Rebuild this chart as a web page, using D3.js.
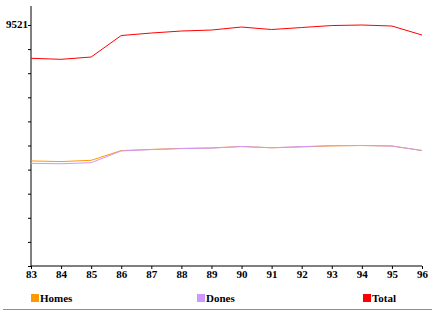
<!DOCTYPE html>
<html><head><meta charset="utf-8">
<script src="https://cdn.jsdelivr.net/npm/d3@7"></script>
<style>body{margin:0;background:#fff}svg{display:block}</style>
</head><body><svg id="c" width="440" height="322"></svg>
<script>
const years = ["83","84","85","86","87","88","89","90","91","92","93","94","95","96"];
const total = [8205, 8165, 8256, 9105, 9204, 9283, 9322, 9441, 9342, 9421, 9500, 9521, 9480, 9125];
const homes = [4150, 4125, 4175, 4560, 4605, 4645, 4665, 4720, 4670, 4705, 4745, 4760, 4740, 4560];
const dones = [4055, 4040, 4081, 4545, 4599, 4638, 4657, 4721, 4672, 4716, 4755, 4761, 4740, 4565];
const yMax = 9521;
const seriesNames = ["Homes","Dones","Total"];
const colors = ["#ff9900","#cc99ff","#ff0000"];

const svg = d3.select("#c");
const x = d3.scalePoint().domain(years).range([31, 422]);
const y = d3.scaleLinear().domain([0, yMax]).range([266, 25]);

function styleText(sel){
  sel.attr("font-family","Liberation Serif").attr("font-weight","bold").attr("font-size",11).attr("fill","#000");
}

// y axis
const yTicks = d3.range(0, 11).map(i => yMax * i / 10);
const yAxis = svg.append("g").attr("transform","translate(31,0)")
  .call(d3.axisLeft(y).tickValues(yTicks).tickSize(3).tickFormat(d => d === yMax ? String(yMax) : ""));
yAxis.attr("font-family","Liberation Serif");
yAxis.select(".domain").attr("d","M0,6V266").attr("stroke","#000");
yAxis.selectAll("text").attr("x",-3).attr("dy","0.2em").call(styleText);

// x axis
const xAxis = svg.append("g").attr("transform","translate(0,266)")
  .call(d3.axisBottom(x).tickSize(3).tickPadding(1));
xAxis.attr("font-family","Liberation Serif");
xAxis.select(".domain").attr("d","M31,0H422");
xAxis.selectAll("text").call(styleText);

// lines
const data = [homes, dones, total];
const line = d3.line().x((d,i)=>x(years[i])).y(d=>y(d));
data.forEach((s,k)=>{
  svg.append("path").datum(s).attr("d",line).attr("fill","none")
    .attr("stroke",colors[k]).attr("stroke-width",1);
});

// legend
const legX = [31, 197, 363];
seriesNames.forEach((n,k)=>{
  svg.append("rect").attr("x",legX[k]).attr("y",294).attr("width",8).attr("height",8).attr("fill",colors[k]);
  svg.append("text").attr("x",legX[k]+9).attr("y",302).text(n).call(styleText);
});
svg.append("line").attr("x1",3).attr("x2",432).attr("y1",309.5).attr("y2",309.5)
  .attr("stroke","#c0804f").attr("stroke-width",1);
</script></body></html>
